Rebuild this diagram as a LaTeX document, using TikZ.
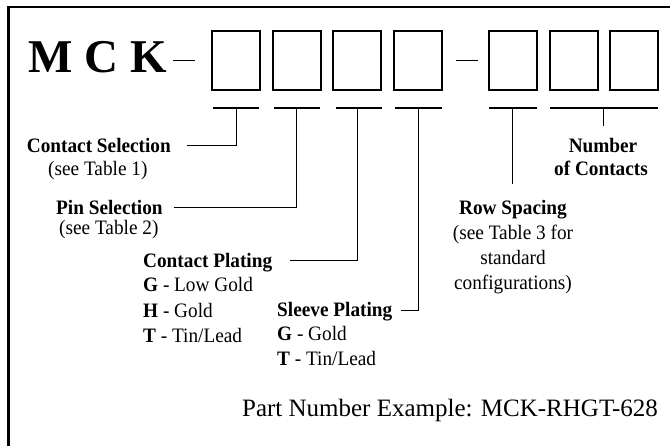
\documentclass[tikz,border=0pt]{standalone}
\usepackage{fontspec}
\setmainfont{Liberation Serif}
\newfontfamily\labelfont[FakeStretch=0.94]{Liberation Serif}
\begin{document}
\begin{tikzpicture}[x=1pt,y=-1pt,
  box/.style={draw,line width=2pt,minimum width=48pt,minimum height=59pt,inner sep=0pt},
  uline/.style={line width=1.3pt},
  stem/.style={line width=1pt},
  lbl/.style={anchor=base west,inner sep=0pt,font=\labelfont\fontsize{20.5}{24}\selectfont},
  clbl/.style={anchor=base,inner sep=0pt,font=\labelfont\fontsize{20.5}{24}\selectfont},
  dashline/.style={line width=1.8pt}]
\useasboundingbox (0,0) rectangle (670,446);
\fill[white] (0,0) rectangle (670,446);
% frame
\draw[line width=2.6pt] (8.5,7) rectangle (690,470);
% title
\node[anchor=base west,inner sep=0pt,font=\bfseries\fontsize{47}{50}\selectfont] (mck) at (28,73) {M C K};
\draw[dashline] (173,60.5) -- (195,60.5);
\draw[dashline] (456,60.5) -- (478,60.5);
% boxes
\node[box] (b1) at (236,61) {};
\node[box] (b2) at (296.5,61) {};
\node[box] (b3) at (356.5,61) {};
\node[box] (b4) at (417.5,61) {};
\node[box] (b5) at (513,61) {};
\node[box] (b6) at (573.5,61) {};
\node[box] (b7) at (634,61) {};
% underline coordinates
\coordinate (u1l) at (213,108); \coordinate (u1r) at (259,108);
\coordinate (u2l) at (274,108); \coordinate (u2r) at (320,108);
\coordinate (u3l) at (336,108); \coordinate (u3r) at (382,108);
\coordinate (u4l) at (395,108); \coordinate (u4r) at (442,108);
\coordinate (u5l) at (489,108); \coordinate (u5r) at (537,108);
\coordinate (u6l) at (550,108); \coordinate (u6r) at (658,108);
\foreach \i in {1,...,6} {\draw[uline] (u\i l) -- (u\i r);}
% stems
\coordinate (s1) at (236.7,108);
\coordinate (s2) at (296.7,108);
\coordinate (s3) at (357.7,108);
\coordinate (s4) at (418.5,108);
\coordinate (s5) at (512,108);
\coordinate (s6) at (603.5,108);
% label end points
\coordinate (e1) at (187,146);
\coordinate (e2) at (174,208);
\coordinate (e3) at (290,260.7);
\coordinate (e4) at (400.7,310.7);
\coordinate (e5) at (512,184);
\coordinate (e6) at (603.5,126);
\draw[stem] (s1) |- (e1);
\draw[stem] (s2) |- (e2);
\draw[stem] (s3) |- (e3);
\draw[stem] (s4) |- (e4);
\draw[stem] (s5) -- (e5);
\draw[stem] (s6) -- (e6);
% labels
\node[lbl] (cs) at (26.7,153) {\bfseries Contact Selection};
\node[lbl] (cs2) at (48,176) {(see Table 1)};
\node[lbl] (ps) at (56,214.5) {\bfseries Pin Selection};
\node[lbl] (ps2) at (59,235) {(see Table 2)};
\node[lbl] (cp) at (143,268) {\bfseries Contact Plating};
\node[lbl] (cp1) at (143,292) {\textbf{G} - Low Gold};
\node[lbl] (cp2) at (143,318) {\textbf{H} - Gold};
\node[lbl] (cp3) at (143,343) {\textbf{T} - Tin/Lead};
\node[lbl] (sp) at (277,317) {\bfseries Sleeve Plating};
\node[lbl] (sp1) at (277,341) {\textbf{G} - Gold};
\node[lbl] (sp2) at (277,366) {\textbf{T} - Tin/Lead};
\node[clbl] (rs) at (513,215) {\bfseries Row Spacing};
\node[clbl] (rs1) at (513,240) {(see Table 3 for};
\node[clbl] (rs2) at (513,265) {standard};
\node[clbl] (rs3) at (513,290) {configurations)};
\node[clbl] (nc) at (603,153) {\bfseries Number};
\node[clbl] (nc2) at (601,176) {\bfseries of Contacts};
\node[anchor=base east,inner sep=0pt,font=\fontsize{25}{28}\selectfont] (ex) at (658,417) {Part Number Example: MCK-RHGT-628};
\end{tikzpicture}
\end{document}
